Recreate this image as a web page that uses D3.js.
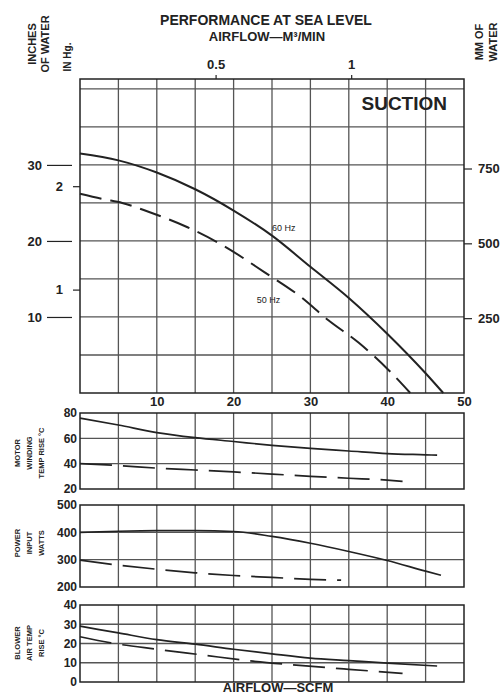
<!DOCTYPE html>
<html>
<head>
<script src="https://d3js.org/d3.v7.min.js"></script>
<style>
  body { margin: 0; background: #fff; }
  text { font-family: "Liberation Sans", Arial, sans-serif; fill: #222; }
</style>
</head>
<body>
<div id="chart"></div>
<script>
// ---- data (airflow in SCFM) ----
// suction, inches of water
var airflow60 = [0, 5, 10, 15, 20, 25, 30, 35, 40, 45, 47.3];
var suction60 = [31.5, 30.6, 29.0, 26.8, 24.0, 20.7, 16.6, 12.5, 7.8, 2.6, 0];
var airflow50 = [0, 3, 5.5, 9, 14, 18.8, 24, 28.8, 32.3, 36.3, 40.2, 43];
var suction50 = [26.2, 25.5, 25.0, 23.8, 21.8, 19.3, 15.9, 12.6, 9.6, 6.6, 3.0, 0];

// motor winding temp rise, deg C
var motorFlow60 = [0, 5, 10, 15, 20, 25, 30, 35, 40, 45, 46.5];
var motorTemp60 = [76, 70.5, 64.5, 60.5, 57.5, 54.5, 52, 50, 48, 47, 46.7];
var motorFlow50 = [0, 5, 10, 15, 20, 25, 30, 35, 40, 42];
var motorTemp50 = [40, 38.5, 36.5, 35, 33.5, 31.8, 30, 28.5, 27, 26];

// power input, watts
var powerFlow60 = [0, 5, 10, 15, 20, 25, 30, 35, 40, 45, 47];
var powerWatts60 = [400, 404, 406, 406, 403, 385, 360, 330, 297, 258, 243];
var powerFlow50 = [0, 5, 10, 15, 20, 25, 30, 34];
var powerWatts50 = [298, 280, 265, 252, 242, 235, 228, 225];

// blower air temp rise, deg C
var blowerFlow60 = [0, 5, 10, 15, 20, 25, 30, 35, 40, 46.5];
var blowerTemp60 = [29, 25.5, 22, 19.7, 17, 14.6, 12.4, 11.1, 9.8, 8.3];
var blowerFlow50 = [0, 4, 10, 16, 22, 29, 35, 42];
var blowerTemp50 = [23.5, 20.3, 17, 14, 11, 8.5, 6.6, 4.5];

// tick labels
var flowTicks = [10, 20, 30, 40, 50];
var inchTicks = [10, 20, 30];
var hgTicks = [1, 2];
var mmTicks = [250, 500, 750];
var m3Ticks = [0.5, 1];

var svg = d3.select("#chart").append("svg")
    .attr("width", 501)
    .attr("height", 700);

var ink = "#222", gridInk = "#555";

var x = d3.scaleLinear().domain([0, 50]).range([80, 464]);
var yMax = 41.3;
var y = d3.scaleLinear().domain([0, yMax]).range([393, 79]);

function zip(xs, ys) { return xs.map(function(d, i) { return [d, ys[i]]; }); }

function grid(g, yScale, hLines) {
  g.selectAll(".v").data(d3.range(5, 50, 5)).enter().append("line")
    .attr("x1", function(d) { return x(d); }).attr("x2", function(d) { return x(d); })
    .attr("y1", yScale.range()[0]).attr("y2", yScale.range()[1])
    .attr("stroke", gridInk).attr("stroke-width", 1.3);
  g.selectAll(".h").data(hLines).enter().append("line")
    .attr("x1", x(0)).attr("x2", x(50))
    .attr("y1", function(d) { return yScale(d); }).attr("y2", function(d) { return yScale(d); })
    .attr("stroke", gridInk).attr("stroke-width", 1.3);
  g.append("rect")
    .attr("x", x(0)).attr("y", yScale.range()[1])
    .attr("width", x(50) - x(0)).attr("height", yScale.range()[0] - yScale.range()[1])
    .attr("fill", "none").attr("stroke", ink).attr("stroke-width", 1.5);
}

function curve(g, yScale, pts, dash, w) {
  g.append("path")
    .datum(pts)
    .attr("d", d3.line()
      .x(function(d) { return x(d[0]); })
      .y(function(d) { return yScale(d[1]); })
      .curve(d3.curveMonotoneX))
    .attr("fill", "none")
    .attr("stroke", ink)
    .attr("stroke-width", w)
    .attr("stroke-dasharray", dash);
}

function cleanAxis(g) {
  g.select(".domain").remove();
  g.selectAll("line").attr("stroke", ink).attr("stroke-width", 1.2);
  g.selectAll("text").attr("font-family", "Liberation Sans, Arial, sans-serif")
    .attr("font-weight", "bold").attr("fill", "#333");
}

// ---- main suction chart ----
var main = svg.append("g");
grid(main, y, d3.range(5, yMax, 5));
curve(main, y, zip(airflow60, suction60), null, 2);
curve(main, y, zip(airflow50, suction50), "22,9", 2);

main.append("text").attr("x", x(25)).attr("y", y(21.3))
  .attr("font-size", 9).attr("fill", "#333").text("60 Hz");
main.append("text").attr("x", x(23)).attr("y", y(11.9))
  .attr("font-size", 9).attr("fill", "#333").text("50 Hz");

main.append("text").attr("x", 447).attr("y", 110)
  .attr("text-anchor", "end").attr("font-size", 19).attr("font-weight", "bold")
  .text("SUCTION");

// inches of water (left, long ticks)
svg.append("g").attr("transform", "translate(72,0)")
  .call(d3.axisLeft(y).tickValues(inchTicks).tickSize(25).tickPadding(5))
  .call(cleanAxis)
  .selectAll("text").attr("font-size", 13);

// inches of mercury
var yHg = d3.scaleLinear().domain([0, yMax / 13.6]).range([393, 79]);
svg.append("g").attr("transform", "translate(80,0)")
  .call(d3.axisLeft(yHg).tickValues(hgTicks).tickFormat(d3.format("d")).tickSize(7).tickPadding(10))
  .call(cleanAxis)
  .selectAll("text").attr("font-size", 13);

// mm of water (right)
var yMM = d3.scaleLinear().domain([0, yMax * 25.4]).range([393, 79]);
svg.append("g").attr("transform", "translate(464,0)")
  .call(d3.axisRight(yMM).tickValues(mmTicks).tickSize(8).tickPadding(6))
  .call(cleanAxis)
  .selectAll("text").attr("font-size", 13);

// m3/min (top)
var xM3 = d3.scaleLinear().domain([0, 50 / 35.31]).range([80, 464]);
svg.append("g").attr("transform", "translate(0,79)")
  .call(d3.axisTop(xM3).tickValues(m3Ticks).tickSize(4).tickFormat(d3.format("")).tickPadding(6))
  .call(cleanAxis)
  .selectAll("text").attr("font-size", 13);

// SCFM under main chart
svg.append("g").attr("transform", "translate(0,393)")
  .call(d3.axisBottom(x).tickValues(flowTicks).tickSize(0).tickPadding(4))
  .call(cleanAxis)
  .selectAll("text").attr("font-size", 13);

// ---- titles ----
svg.append("text").attr("x", 266).attr("y", 25).attr("text-anchor", "middle")
  .attr("font-size", 14).attr("font-weight", "bold").text("PERFORMANCE AT SEA LEVEL");
svg.append("text").attr("x", 267).attr("y", 41).attr("text-anchor", "middle")
  .attr("font-size", 13).attr("font-weight", "bold").text("AIRFLOW\u2014M\u00b3/MIN");

function vLabel(cx, cy, lines, size, gap) {
  var t = svg.append("text")
    .attr("transform", "translate(" + cx + "," + cy + ") rotate(-90)")
    .attr("text-anchor", "middle").attr("font-size", size).attr("font-weight", "bold");
  lines.forEach(function(l, i) {
    t.append("tspan").attr("x", 0)
      .attr("y", (i - (lines.length - 1) / 2) * gap + size * 0.35)
      .text(l);
  });
}
vLabel(39, 44, ["INCHES", "OF WATER"], 11, 13);
vLabel(67, 57, ["IN Hg."], 10, 11);
vLabel(486, 42, ["MM OF", "WATER"], 11, 14);

// ---- lower panels ----
var panels = [
  { top: 413, bottom: 489, domain: [20, 80], ticks: [20, 40, 60, 80],
    s60: zip(motorFlow60, motorTemp60), s50: zip(motorFlow50, motorTemp50),
    label: ["MOTOR", "WINDING", "TEMP RISE \u00b0C"], cy: 453 },
  { top: 505, bottom: 587, domain: [200, 500], ticks: [200, 300, 400, 500],
    s60: zip(powerFlow60, powerWatts60), s50: zip(powerFlow50, powerWatts50),
    label: ["POWER", "INPUT", "WATTS"], cy: 543 },
  { top: 605, bottom: 682, domain: [0, 40], ticks: [0, 10, 20, 30, 40],
    s60: zip(blowerFlow60, blowerTemp60), s50: zip(blowerFlow50, blowerTemp50),
    label: ["BLOWER", "AIR TEMP", "RISE \u00b0C"], cy: 643 }
];

panels.forEach(function(p) {
  var ys = d3.scaleLinear().domain(p.domain).range([p.bottom, p.top]);
  var g = svg.append("g");
  grid(g, ys, p.ticks.slice(1, -1));
  curve(g, ys, p.s60, null, 1.7);
  curve(g, ys, p.s50, "32,11", 1.7);
  svg.append("g").attr("transform", "translate(" + x(0) + ",0)")
    .call(d3.axisLeft(ys).tickValues(p.ticks).tickSize(0).tickPadding(3))
    .call(cleanAxis)
    .selectAll("text").attr("font-size", 12);
  vLabel(29, p.cy, p.label, 7.5, 12);
});

svg.append("text").attr("x", 278).attr("y", 692).attr("text-anchor", "middle")
  .attr("font-size", 13).attr("font-weight", "bold").text("AIRFLOW\u2014SCFM");
</script>
</body>
</html>
